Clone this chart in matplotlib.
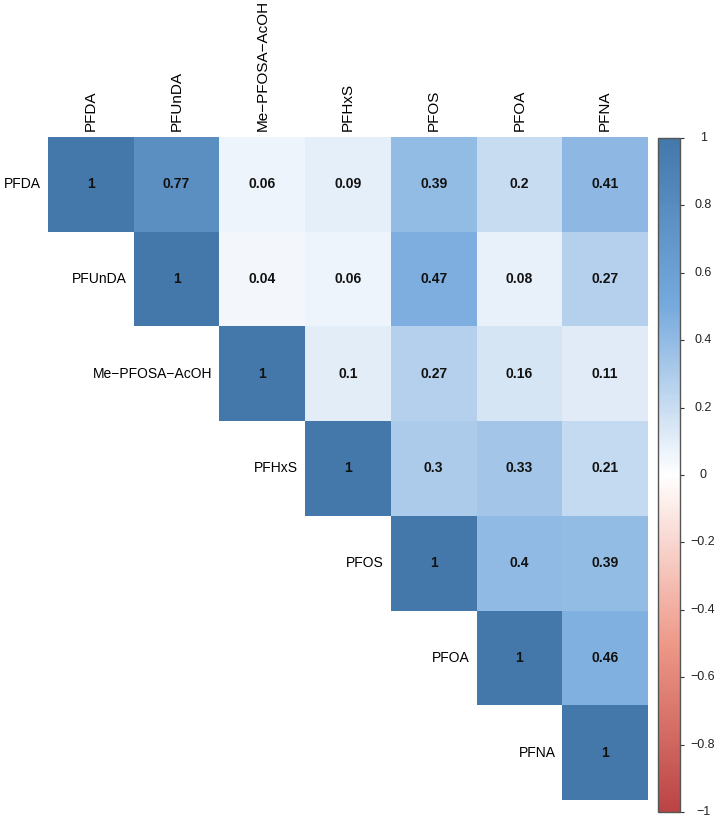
import matplotlib
matplotlib.use("Agg")
import matplotlib.pyplot as plt
from matplotlib.colors import LinearSegmentedColormap, Normalize
from matplotlib.cm import ScalarMappable
import numpy as np

plt.rcParams["font.family"] = ["Liberation Sans", "DejaVu Sans"]

# compounds, in matrix order
labels = ["PFDA", "PFUnDA", "Me\u2212PFOSA\u2212AcOH", "PFHxS", "PFOS", "PFOA", "PFNA"]

# upper triangle (diagonal included), one list per row
r_pfda = [1, 0.77, 0.06, 0.09, 0.39, 0.2, 0.41]
r_pfunda = [1, 0.04, 0.06, 0.47, 0.08, 0.27]
r_mepfosa = [1, 0.1, 0.27, 0.16, 0.11]
r_pfhxs = [1, 0.3, 0.33, 0.21]
r_pfos = [1, 0.4, 0.39]
r_pfoa = [1, 0.46]
r_pfna = [1]
rows = [r_pfda, r_pfunda, r_mepfosa, r_pfhxs, r_pfos, r_pfoa, r_pfna]

cbar_ticks = [-1, -0.8, -0.6, -0.4, -0.2, 0, 0.2, 0.4, 0.6, 0.8, 1]

n = len(labels)
mat = np.full((n, n), np.nan)
for i, vals in enumerate(rows):
    mat[i, i:] = vals
mat = np.ma.masked_invalid(mat)

cmap = LinearSegmentedColormap.from_list(
    "corr", ["#BB4444", "#EE9988", "#FFFFFF", "#77AADD", "#4477AA"], N=200
)
norm = Normalize(vmin=-1, vmax=1)

fig = plt.figure(figsize=(7.27, 8.17), dpi=100)
ax = fig.add_axes([48 / 727, 1 - 800 / 817, 600 / 727, 663 / 817])
ax.pcolormesh(np.arange(n + 1), np.arange(n + 1), mat, cmap=cmap, norm=norm,
              edgecolors="none", antialiased=False)
ax.set_xlim(0, n)
ax.set_ylim(n, 0)
ax.axis("off")

for i in range(n):
    for j in range(i, n):
        v = mat[i, j]
        ax.text(j + 0.5, i + 0.5, f"{v:g}", ha="center", va="center",
                fontsize=10, fontweight="bold", color="#111111")
    # column labels on top
    ax.text(i + 0.5, -0.06, labels[i], rotation=90, ha="center", va="bottom",
            fontsize=11, clip_on=False)
    # row labels next to the diagonal
    ax.text(i - 0.08, i + 0.5, labels[i], ha="right", va="center",
            fontsize=10, clip_on=False)

# colour legend
cax = fig.add_axes([658 / 727, 1 - 812 / 817, 22 / 727, 674 / 817])
cb = fig.colorbar(ScalarMappable(norm=norm, cmap=cmap), cax=cax, ticks=cbar_ticks)
cb.outline.set_edgecolor("#555555")
cb.outline.set_linewidth(1.0)
cax.tick_params(axis="y", length=3, width=0.8, color="#333333", labelright=False)
for t in cbar_ticks:
    cax.text(2.05, t, f"{t:g}".replace("-", "\u2212"), transform=cax.get_yaxis_transform(),
             ha="center", va="center", fontsize=9, color="#222222")

fig.savefig("out.png", dpi=100)
